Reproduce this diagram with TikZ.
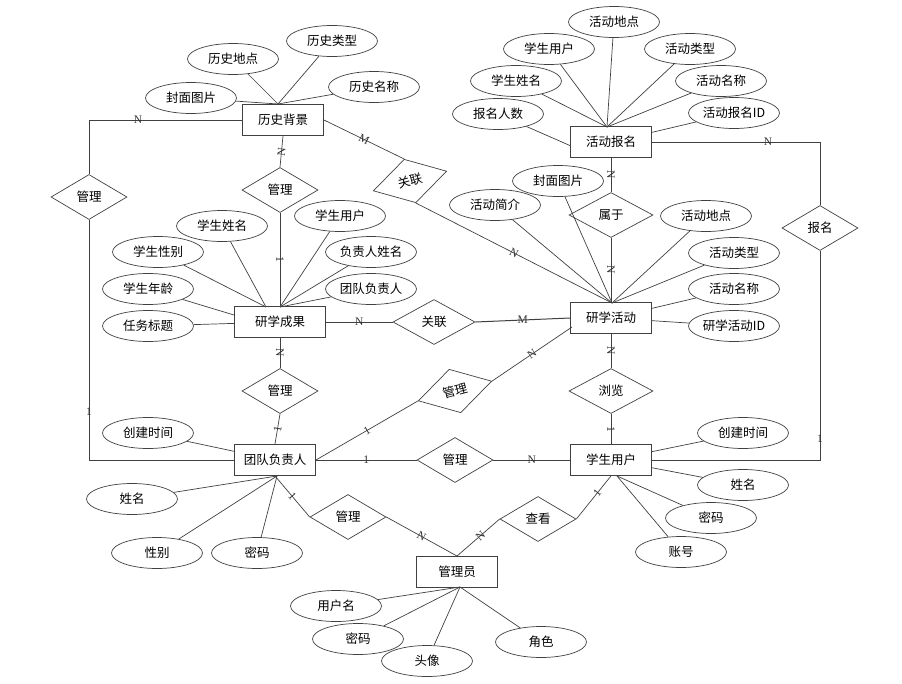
\documentclass[tikz,border=0pt]{standalone}
\usepackage{fontspec}
\setmainfont{Noto Sans CJK SC}
\newfontfamily\cardfont{Liberation Serif}
\usetikzlibrary{shapes.geometric}

\begin{document}
\begin{tikzpicture}[
  x=1pt,y=-1pt,
  font=\fontsize{12.5}{14}\selectfont,
  ent/.style={draw=black!75,line width=.9pt,rectangle,minimum width=81,minimum height=31,inner sep=0pt},
  attr/.style={draw=black!75,line width=.7pt,ellipse,minimum width=91,minimum height=31,inner sep=0pt},
  rel/.style={draw=black!75,line width=.7pt,diamond,aspect=1.7,minimum width=76,minimum height=45,inner sep=0pt},
  link/.style={black!75,line width=.7pt},
  card/.style={font=\cardfont\fontsize{11.5}{11.5}\selectfont,inner sep=0pt,black!80}
]
\useasboundingbox (0,0) rectangle (902,683);
% entities
\node[ent] (hist) at (283,120) {历史背景};
\node[ent,minimum width=91] (res) at (280,322) {研学成果};
\node[ent] (sign) at (611,142) {活动报名};
\node[ent] (act) at (611,318) {研学活动};
\node[ent] (lead) at (275,460) {团队负责人};
\node[ent] (stu) at (611,460) {学生用户};
\node[ent] (adm) at (457,572) {管理员};
% relations
\node[rel] (mgL) at (89,197) {管理};
\node[rel] (mgH) at (280,190) {管理};
\node[rel,rotate=15] (relH) at (410,181) {关联};
\node[rel,minimum width=82] (relR) at (434,322) {关联};
\node[rel,minimum width=84] (belong) at (611,215) {属于};
\node[rel] (reg) at (820,228) {报名};
\node[rel] (mgR) at (280,391) {管理};
\node[rel,rotate=15] (mgA) at (455,391) {管理};
\node[rel] (mgS) at (455,460) {管理};
\node[rel,minimum width=84] (browse) at (611,391) {浏览};
\node[rel] (mgM) at (348,517) {管理};
\node[rel] (look) at (538,519) {查看};
% attribute end points
\coordinate (histTop) at (278,104);
\coordinate (resTop) at (280,307);
\coordinate (resTopL) at (266,307);
\coordinate (resCorner) at (234,315);
\coordinate (signTop) at (607,127);
\coordinate (signLeft) at (571,146);
\coordinate (actTop) at (612,303);
\coordinate (actLow) at (572,327);
\coordinate (leadBot) at (277,476);
\coordinate (stuBot) at (617,476);
\coordinate (admBot) at (460,587);
% attributes
\foreach \n/\x/\y/\t/\to in {
  h1/191/98/封面图片/histTop, h2/233/59/历史地点/histTop,
  h3/332/41/历史类型/histTop, h4/374/87/历史名称/histTop,
  r1/222/226/学生姓名/resTopL, r2/158/252/学生性别/resTopL,
  r3/148/289/学生年龄/resCorner, r4/148/326/任务标题/res,
  r5/340/216/学生用户/resTop, r6/371/252/负责人姓名/resTop,
  r7/371/289/团队负责人/resTop,
  s1/614/22/活动地点/signTop, s2/549/49/学生用户/signTop,
  s3/690/49/活动类型/signTop, s4/516/81/学生姓名/signTop,
  s5/721/81/活动名称/signTop, s6/498/114/报名人数/signLeft,
  s7/734/113/活动报名ID/sign,
  a1/558/181/封面图片/actTop, a2/495/205/活动简介/actTop,
  a3/706/216/活动地点/actTop, a4/734/253/活动类型/actTop,
  a5/734/289/活动名称/act, a6/734/326/研学活动ID/act,
  l1/148/433/创建时间/lead, l2/132/499/姓名/leadBot,
  l3/157/553/性别/leadBot, l4/257/553/密码/leadBot,
  u1/743/433/创建时间/stu, u2/743/485/姓名/stu,
  u3/711/518/密码/stuBot, u4/681/552/账号/stuBot,
  m1/336/606/用户名/admBot, m2/358/639/密码/admBot,
  m3/427/661/头像/admBot, m4/541/642/角色/admBot}{
  \node[attr] (\n) at (\x,\y) {\t};
  \draw[link] (\n) -- (\to);
}
% relationships
\draw[link] (hist.west) -| node[card,pos=.34] {N} (mgL.north);
\draw[link] (mgL.south) |- node[card,pos=.4] {1} (lead.west);
\draw[link] (hist.south) -- node[card,sloped] {N} (mgH.north);
\draw[link] (mgH.south) -- node[card,sloped] {1} (res.north);
\draw[link] (hist.east) -- node[card,sloped] {M} (relH.north);
\draw[link] (relH.south) -- node[card,sloped] {N} (actTop);
\draw[link,line width=1pt] (res.east) -- node[card] {N} (relR.west);
\draw[link,line width=1pt] (relR.east) -- node[card] {M} (act.west);
\draw[link] (sign.south) -- node[card,sloped] {N} (belong.north);
\draw[link] (belong.south) -- node[card,sloped] {N} (act.north);
\draw[link] (sign.east) -| node[card,pos=.345] {N} (reg.north);
\draw[link] (reg.south) |- node[card,pos=.45] {1} (stu.east);
\draw[link] (act.south) -- node[card,sloped] {N} (browse.north);
\draw[link] (browse.south) -- node[card,sloped] {1} (stu.north);
\draw[link] (res.south) -- node[card,sloped] {N} (mgR.north);
\draw[link] (mgR.south) -- node[card,sloped] {1} (lead.north);
\draw[link] (lead.east) -- node[card,sloped] {1} (mgA.west);
\draw[link] (mgA.east) -- node[card,sloped] {N} (actLow);
\draw[link,line width=1pt] (lead.east) -- node[card] {1} (mgS.west);
\draw[link,line width=1pt] (mgS.east) -- node[card] {N} (stu.west);
\draw[link] (lead.south) -- node[card,sloped] {1} (mgM.west);
\draw[link] (mgM.east) -- node[card,sloped] {N} (adm.north);
\draw[link] (adm.north) -- node[card,sloped,pos=.55] {N} (look.west);
\draw[link] (look.east) -- node[card,sloped,pos=.6] {1} (stu.south);
\end{tikzpicture}
\end{document}
